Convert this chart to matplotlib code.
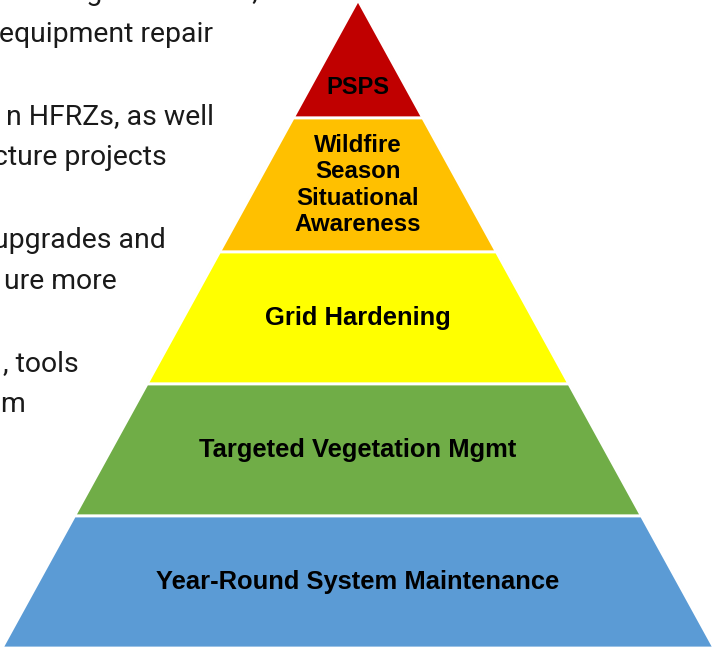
import matplotlib
matplotlib.use("Agg")
import matplotlib.pyplot as plt
from matplotlib.patches import Polygon

# pyramid tiers, top to bottom
tier_labels = ["PSPS", "Wildfire\nSeason\nSituational\nAwareness", "Grid Hardening",
               "Targeted Vegetation Mgmt", "Year-Round System Maintenance"]
tier_colors = ["#C00000", "#FFC000", "#FFFF00", "#70AD47", "#5B9BD5"]
tier_heights = [118, 134, 132, 132, 132]
tier_fontsize = [17, 17.3, 18.4, 18.4, 18.4]

# left-hand text (cut off at the image edge); '' = paragraph gap
side_lines = ["es design standards,", "equipment repair", "",
              "n HFRZs, as well", "cture projects", "",
              "upgrades and", "ure more", "",
              ", tools", "m"]
side_ends = [258, 213, 0, 214, 167, 0, 166, 117, 0, 79, 25]

W, H = 713, 649
fig = plt.figure(figsize=(W / 100, H / 100), dpi=100)
ax = fig.add_axes([0, 0, 1, 1])
ax.set_xlim(0, W)
ax.set_ylim(H, 0)
ax.axis("off")

apex_x, apex_y = 358, 0
base_left, base_right = 2, 714
total = sum(tier_heights)


def edge_x(y):
    t = (y - apex_y) / total
    return apex_x + (base_left - apex_x) * t, apex_x + (base_right - apex_x) * t


y = apex_y
for i, (lab, col, h) in enumerate(zip(tier_labels, tier_colors, tier_heights)):
    y0, y1 = y, y + h
    l0, r0 = edge_x(y0)
    l1, r1 = edge_x(y1)
    ax.add_patch(Polygon([(l0, y0), (r0, y0), (r1, y1), (l1, y1)],
                         closed=True, facecolor=col, edgecolor="white", lw=2, zorder=2))
    ty = y0 + h * (0.74 if i == 0 else 0.5)
    ax.text(apex_x, ty, lab, ha="center", va="center", family="Liberation Sans",
            fontweight="bold", fontsize=tier_fontsize[i], linespacing=1.17,
            color="black", zorder=3)
    y = y1

# faint grey outline on the sloped sides
ax.plot([base_left, apex_x, base_right], [apex_y + total, apex_y, apex_y + total],
        color="#cfcfcf", lw=1, zorder=1.5)

pitch = 41.2
for i, (s, xe) in enumerate(zip(side_lines, side_ends)):
    if s:
        fig.text(xe / W, 1 - (-7 + i * pitch) / H, s, ha="right", va="center",
                 family="Roboto", fontsize=20.4, color="#1a1a1a")

fig.savefig("out.png", dpi=100)
